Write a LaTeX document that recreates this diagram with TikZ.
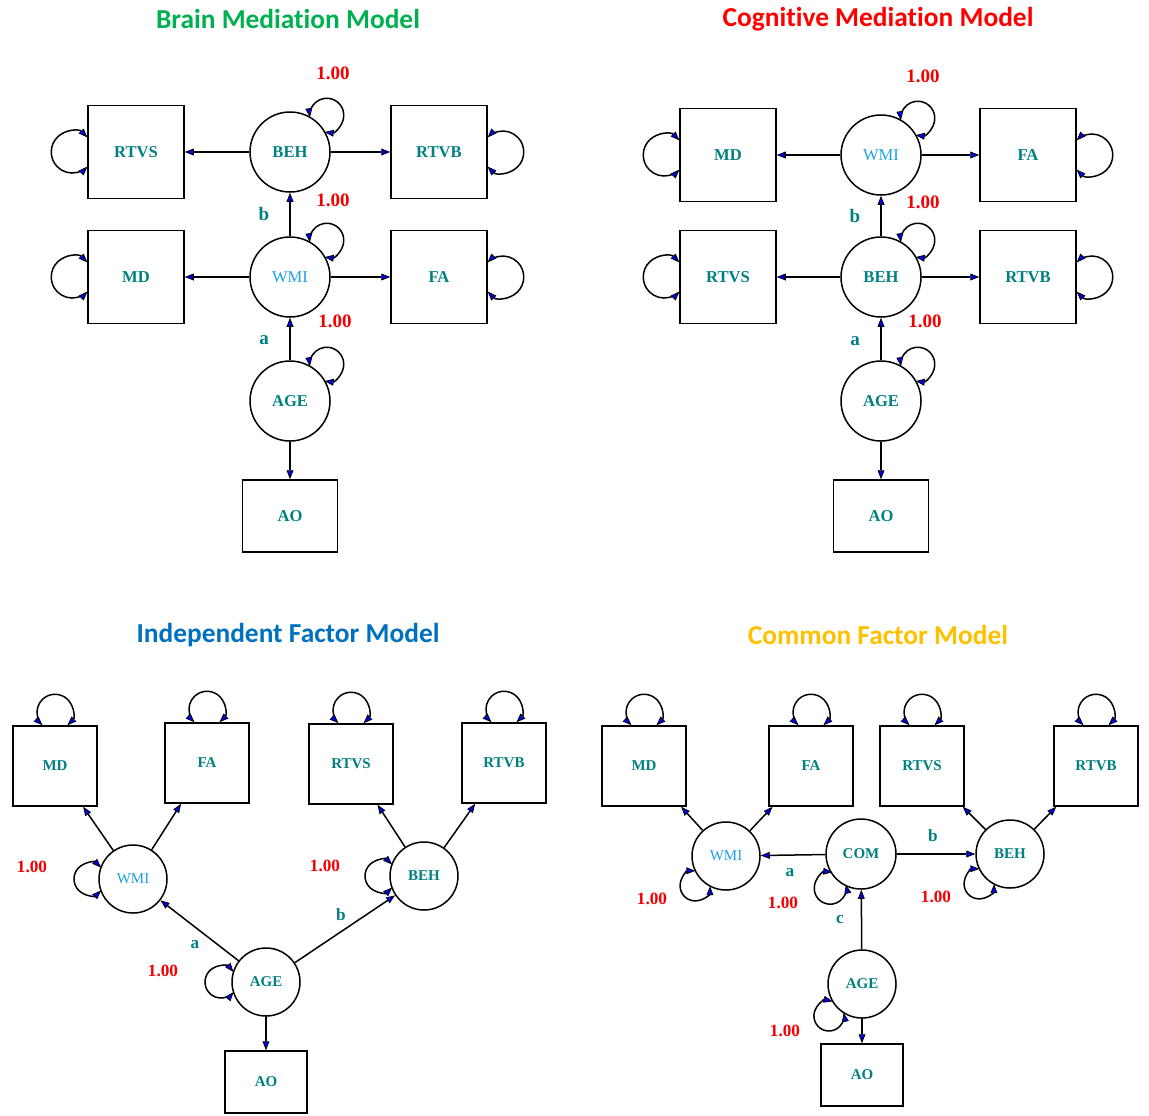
\documentclass[tikz,border=0pt]{standalone}
\usepackage{fontspec}
\setmainfont{Liberation Serif}
\newfontfamily\titlefont{Carlito}[Ligatures=NoCommon]
\usetikzlibrary{arrows.meta,calc}
\definecolor{tealtxt}{RGB}{0,128,128}
\definecolor{wmiblue}{RGB}{30,160,230}
\definecolor{tgreen}{RGB}{0,176,80}
\definecolor{tred}{RGB}{255,0,0}
\definecolor{tblue}{RGB}{0,112,192}
\definecolor{tgold}{RGB}{255,192,0}
\definecolor{valred}{RGB}{245,0,0}
\definecolor{tipblue}{RGB}{0,0,235}
\tikzset{
  tipA/.tip={Triangle[length=4.5pt,width=3.4pt,fill=tipblue,line width=0.4pt]},
  conn/.style={draw,line width=0.75pt,-tipA},
  cov/.style={draw,line width=0.75pt,tipA-tipA},
  bigbox/.style={draw,line width=0.75pt,minimum width=48pt,minimum height=46.5pt,inner sep=0pt,
    font=\fontsize{8.3}{10}\selectfont\bfseries,text=tealtxt},
  bigcirc/.style={circle,draw,line width=0.75pt,minimum size=40pt,inner sep=0pt,
    font=\fontsize{8.3}{10}\selectfont\bfseries,text=tealtxt},
  smallbox/.style={draw,line width=0.75pt,minimum width=42pt,minimum height=40pt,inner sep=0pt,
    font=\fontsize{7.5}{9}\selectfont\bfseries,text=tealtxt},
  smallcirc/.style={circle,draw,line width=0.75pt,minimum size=34pt,inner sep=0pt,
    font=\fontsize{7.5}{9}\selectfont\bfseries,text=tealtxt},
  wmibig/.style={font=\fontsize{8.3}{10}\selectfont,text=wmiblue},
  wmismall/.style={font=\fontsize{7.5}{9}\selectfont,text=wmiblue},
  valbig/.style={text=valred,font=\fontsize{9.5}{11}\selectfont\bfseries,inner sep=0pt},
  valsmall/.style={text=valred,font=\fontsize{8.6}{10}\selectfont\bfseries,inner sep=0pt},
  labbig/.style={text=tealtxt,font=\fontsize{9.5}{11}\selectfont\bfseries,inner sep=0pt},
  labsmall/.style={text=tealtxt,font=\fontsize{8.6}{10}\selectfont\bfseries,inner sep=0pt},
  ttl/.style={font=\titlefont\fontsize{13.7}{16}\selectfont\bfseries,inner sep=0pt}
}
% #1 reference point, #2 direction, #3 distance, #4 radius, #5 half angle
\newcommand{\cloop}[5]{\draw[cov] ($(#1)+({#2}:#3)+({#2+180+#5}:#4)$) arc[start angle={#2+180+#5},end angle={#2+540-#5},radius=#4];}
\begin{document}
\begin{tikzpicture}[x=0.5pt,y=-0.5pt]
\useasboundingbox (0,0) rectangle (1149,1115);

% ---------------- Brain Mediation Model ----------------
\node[ttl,text=tgreen] (t1) at (288,19) {Brain Mediation Model};
\node[bigcirc] (A_BEH) at (290,152) {BEH};
\node[bigbox] (A_RTVS) at (136,152) {RTVS};
\node[bigbox] (A_RTVB) at (439,152) {RTVB};
\node[bigcirc,wmibig] (A_WMI) at (290,277) {WMI};
\node[bigbox] (A_MD) at (136,277) {MD};
\node[bigbox] (A_FA) at (439,277) {FA};
\node[bigcirc] (A_AGE) at (290,401) {AGE};
\node[bigbox,minimum width=47.5pt,minimum height=36pt] (A_AO) at (290,516) {AO};
\draw[conn] (A_BEH) -- (A_RTVS);
\draw[conn] (A_BEH) -- (A_RTVB);
\draw[conn] (A_WMI) -- (A_BEH);
\draw[conn] (A_WMI) -- (A_MD);
\draw[conn] (A_WMI) -- (A_FA);
\draw[conn] (A_AGE) -- (A_WMI);
\draw[conn] (A_AGE) -- (A_AO);
\cloop{A_BEH.center}{45}{26pt}{8.5pt}{38}
\cloop{A_WMI.center}{45}{26pt}{8.5pt}{38}
\cloop{A_AGE.center}{45}{26pt}{8.5pt}{38}
\cloop{A_RTVS.west}{180}{7.5pt}{10.5pt}{44}
\cloop{A_MD.west}{180}{7.5pt}{10.5pt}{44}
\cloop{A_RTVB.east}{0}{7.5pt}{10.5pt}{44}
\cloop{A_FA.east}{0}{7.5pt}{10.5pt}{44}
\node[valbig] (A_v1) at (333,73) {1.00};
\node[valbig] (A_v2) at (333,200) {1.00};
\node[valbig] (A_v3) at (335,321) {1.00};
\node[labbig] (A_b) at (264,214) {b};
\node[labbig] (A_a) at (264,340) {a};

% ---------------- Cognitive Mediation Model ----------------
\node[ttl,text=tred] (t2) at (878,19) {Cognitive Mediation Model};
\node[bigcirc,wmibig] (B_WMI) at (881,155) {WMI};
\node[bigbox] (B_MD) at (728,155) {MD};
\node[bigbox] (B_FA) at (1028,155) {FA};
\node[bigcirc] (B_BEH) at (881,277) {BEH};
\node[bigbox] (B_RTVS) at (728,277) {RTVS};
\node[bigbox] (B_RTVB) at (1028,277) {RTVB};
\node[bigcirc] (B_AGE) at (881,401) {AGE};
\node[bigbox,minimum width=47.5pt,minimum height=36pt] (B_AO) at (881,516) {AO};
\draw[conn] (B_WMI) -- (B_MD);
\draw[conn] (B_WMI) -- (B_FA);
\draw[conn] (B_BEH) -- (B_WMI);
\draw[conn] (B_BEH) -- (B_RTVS);
\draw[conn] (B_BEH) -- (B_RTVB);
\draw[conn] (B_AGE) -- (B_BEH);
\draw[conn] (B_AGE) -- (B_AO);
\cloop{B_WMI.center}{45}{26pt}{8.5pt}{38}
\cloop{B_BEH.center}{45}{26pt}{8.5pt}{38}
\cloop{B_AGE.center}{45}{26pt}{8.5pt}{38}
\cloop{B_MD.west}{180}{7.5pt}{10.5pt}{44}
\cloop{B_RTVS.west}{180}{7.5pt}{10.5pt}{44}
\cloop{B_FA.east}{0}{7.5pt}{10.5pt}{44}
\cloop{B_RTVB.east}{0}{7.5pt}{10.5pt}{44}
\node[valbig] (B_v1) at (923,76) {1.00};
\node[valbig] (B_v2) at (923,202) {1.00};
\node[valbig] (B_v3) at (925,321) {1.00};
\node[labbig] (B_b) at (855,216) {b};
\node[labbig] (B_a) at (855,341) {a};

% ---------------- Independent Factor Model ----------------
\node[ttl,text=tblue] (t3) at (288,635) {Independent Factor Model};
\node[smallbox] (C_MD) at (55,766) {MD};
\node[smallbox] (C_FA) at (207,763) {FA};
\node[smallbox] (C_RTVS) at (351,764) {RTVS};
\node[smallbox] (C_RTVB) at (504,763) {RTVB};
\node[smallcirc,wmismall] (C_WMI) at (133,879) {WMI};
\node[smallcirc] (C_BEH) at (424,876) {BEH};
\node[smallcirc] (C_AGE) at (266,982) {AGE};
\node[smallbox,minimum width=41pt,minimum height=31pt] (C_AO) at (266,1082) {AO};
\draw[conn] (C_WMI) -- (C_MD);
\draw[conn] (C_WMI) -- (C_FA);
\draw[conn] (C_BEH) -- (C_RTVS);
\draw[conn] (C_BEH) -- (C_RTVB);
\draw[conn] (C_AGE) -- (C_WMI);
\draw[conn] (C_AGE) -- (C_BEH);
\draw[conn] (C_AGE) -- (C_AO);
\cloop{C_MD.north}{90}{6.5pt}{9pt}{44}
\cloop{C_FA.north}{90}{6.5pt}{9pt}{44}
\cloop{C_RTVS.north}{90}{6.5pt}{9pt}{44}
\cloop{C_RTVB.north}{90}{6.5pt}{9pt}{44}
\cloop{C_WMI.center}{180}{21.5pt}{8pt}{46}
\cloop{C_BEH.center}{180}{21.5pt}{8pt}{46}
\cloop{C_AGE.center}{180}{22.5pt}{8pt}{39}
\node[valsmall] (C_v1) at (32,867) {1.00};
\node[valsmall] (C_v2) at (325,866) {1.00};
\node[valsmall] (C_v3) at (163,971) {1.00};
\node[labsmall] (C_a) at (195,945) {a};
\node[labsmall] (C_b) at (341,915) {b};

% ---------------- Common Factor Model ----------------
\node[ttl,text=tgold] (t4) at (878,635) {Common Factor Model};
\node[smallbox] (D_MD) at (644,766) {MD};
\node[smallbox] (D_FA) at (811,766) {FA};
\node[smallbox] (D_RTVS) at (922,766) {RTVS};
\node[smallbox] (D_RTVB) at (1096,766) {RTVB};
\node[smallcirc,wmismall] (D_WMI) at (726,856) {WMI};
\node[smallcirc,minimum size=35pt] (D_COM) at (861,854) {COM};
\node[smallcirc] (D_BEH) at (1010,854) {BEH};
\node[smallcirc] (D_AGE) at (862,984) {AGE};
\node[smallbox,minimum width=41pt,minimum height=31pt] (D_AO) at (862,1075) {AO};
\draw[conn] (D_WMI) -- (D_MD);
\draw[conn] (D_WMI) -- (D_FA);
\draw[conn] (D_BEH) -- (D_RTVS);
\draw[conn] (D_BEH) -- (D_RTVB);
\draw[conn] (D_COM) -- (D_WMI);
\draw[conn] (D_COM) -- (D_BEH);
\draw[conn] (D_AGE) -- (D_COM);
\draw[conn] (D_AGE) -- (D_AO);
\cloop{D_MD.north}{90}{6.5pt}{9pt}{44}
\cloop{D_FA.north}{90}{6.5pt}{9pt}{44}
\cloop{D_RTVS.north}{90}{6.5pt}{9pt}{44}
\cloop{D_RTVB.north}{90}{6.5pt}{9pt}{44}
\cloop{D_WMI.center}{224}{21.5pt}{7.5pt}{45}
\cloop{D_COM.center}{228}{23pt}{8pt}{35}
\cloop{D_BEH.center}{224}{21.5pt}{7.5pt}{45}
\cloop{D_AGE.center}{224}{23pt}{7.5pt}{32}
\node[valsmall] (D_v1) at (652,899) {1.00};
\node[valsmall] (D_v2) at (783,903) {1.00};
\node[valsmall] (D_v3) at (936,897) {1.00};
\node[valsmall] (D_v4) at (785,1031) {1.00};
\node[labsmall] (D_a) at (790,873) {a};
\node[labsmall] (D_b) at (933,836) {b};
\node[labsmall] (D_c) at (840,920) {c};
\end{tikzpicture}
\end{document}
